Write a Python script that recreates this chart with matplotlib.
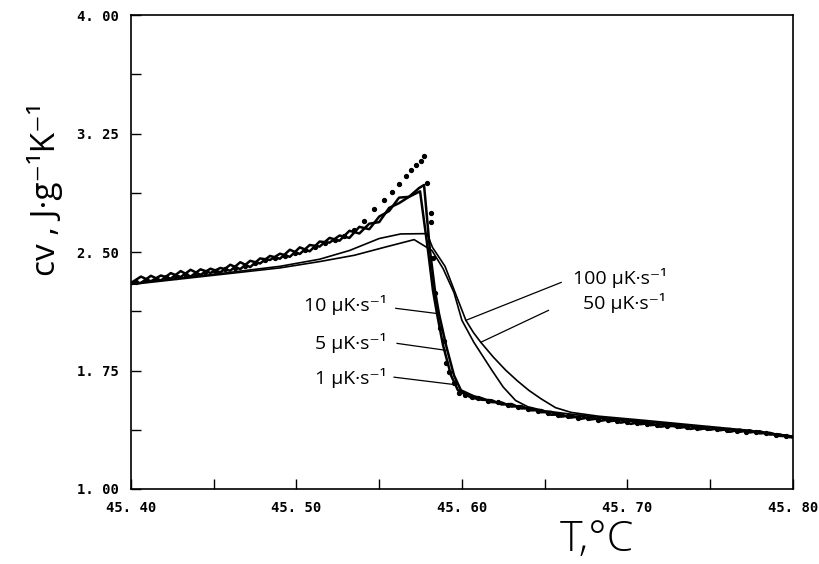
import matplotlib
matplotlib.use("Agg")
import matplotlib.pyplot as plt
from matplotlib.ticker import MultipleLocator, FuncFormatter

# --- data (T in °C, cv in J/(g K)) ---
# 10 uK/s scan (noisy line)
t_10 = [45.400, 45.406, 45.412, 45.418, 45.424, 45.430, 45.436, 45.442, 45.448, 45.454,
        45.460, 45.466, 45.472, 45.478, 45.484, 45.490, 45.496, 45.502, 45.508, 45.514,
        45.520, 45.526, 45.532, 45.538, 45.544, 45.550, 45.556, 45.562, 45.568, 45.574,
        45.5771, 45.5807, 45.5837, 45.5861, 45.5904, 45.5952, 45.5994, 45.6072,
        45.612, 45.618, 45.624, 45.630, 45.636, 45.642, 45.648, 45.654, 45.660, 45.666,
        45.672, 45.678, 45.684, 45.690, 45.696, 45.702, 45.708, 45.714, 45.720, 45.726,
        45.732, 45.738, 45.744, 45.750, 45.756, 45.762, 45.768, 45.774, 45.780, 45.786,
        45.792, 45.798, 45.800]
cv_10 = [2.305, 2.345, 2.315, 2.352, 2.332, 2.380, 2.345, 2.391, 2.368, 2.400,
         2.382, 2.436, 2.405, 2.460, 2.450, 2.490, 2.470, 2.530, 2.505, 2.567,
         2.560, 2.605, 2.590, 2.660, 2.645, 2.725, 2.760, 2.845, 2.850, 2.905,
         2.925, 2.510, 2.257, 2.112, 1.910, 1.720, 1.625, 1.587,
         1.575, 1.550, 1.548, 1.522, 1.525, 1.498, 1.500, 1.470, 1.472, 1.452,
         1.462, 1.440, 1.450, 1.430, 1.438, 1.412, 1.424, 1.404, 1.410, 1.398,
         1.402, 1.380, 1.390, 1.375, 1.386, 1.362, 1.376, 1.358, 1.366, 1.345,
         1.345, 1.328, 1.328]

# 5 uK/s scan (noisy line)
t_5 = [45.400, 45.406, 45.412, 45.418, 45.424, 45.430, 45.436, 45.442, 45.448, 45.454,
       45.460, 45.466, 45.472, 45.478, 45.484, 45.490, 45.496, 45.502, 45.508, 45.514,
       45.520, 45.526, 45.532, 45.538, 45.544, 45.550, 45.556, 45.562, 45.568,
       45.5747, 45.5795, 45.5825, 45.5849, 45.5886, 45.5934, 45.5976, 45.6054,
       45.612, 45.618, 45.624, 45.630, 45.636, 45.642, 45.648, 45.654, 45.660, 45.666,
       45.672, 45.678, 45.684, 45.690, 45.696, 45.702, 45.708, 45.714, 45.720, 45.726,
       45.732, 45.738, 45.744, 45.750, 45.756, 45.762, 45.768, 45.774, 45.780, 45.786,
       45.792, 45.798, 45.800]
cv_5 = [2.300, 2.305, 2.350, 2.320, 2.367, 2.342, 2.388, 2.356, 2.395, 2.372,
        2.420, 2.392, 2.445, 2.428, 2.476, 2.458, 2.515, 2.488, 2.545, 2.535,
        2.590, 2.572, 2.635, 2.618, 2.680, 2.690, 2.780, 2.810, 2.850,
        2.885, 2.510, 2.257, 2.112, 1.910, 1.720, 1.625, 1.580,
        1.565, 1.562, 1.535, 1.538, 1.510, 1.512, 1.486, 1.488, 1.458, 1.466,
        1.444, 1.456, 1.432, 1.442, 1.420, 1.432, 1.410, 1.418, 1.394, 1.404,
        1.388, 1.398, 1.378, 1.392, 1.372, 1.380, 1.362, 1.372, 1.352, 1.356,
        1.336, 1.334, 1.326]

# 1 uK/s scan (points)
t_1 = [45.403, 45.409, 45.415, 45.421, 45.427, 45.433, 45.439, 45.445, 45.451, 45.457,
       45.463, 45.469, 45.475, 45.481, 45.487, 45.493, 45.499, 45.505, 45.511, 45.517,
       45.523, 45.529, 45.535, 45.541, 45.547, 45.553, 45.558, 45.562, 45.566, 45.569,
       45.572, 45.575, 45.577, 45.5789, 45.5813, 45.5813, 45.5825, 45.5837, 45.5867,
       45.5892, 45.5904, 45.5922, 45.5952, 45.5982, 45.602, 45.606,
       45.610, 45.616, 45.622, 45.628, 45.634, 45.640, 45.646, 45.652, 45.658, 45.664,
       45.670, 45.676, 45.682, 45.688, 45.694, 45.700, 45.706, 45.712, 45.718, 45.724,
       45.730, 45.736, 45.742, 45.748, 45.754, 45.760, 45.766, 45.772, 45.778, 45.784,
       45.790, 45.796]
cv_1 = [2.310, 2.322, 2.330, 2.340, 2.345, 2.356, 2.362, 2.372, 2.378, 2.390,
        2.400, 2.415, 2.430, 2.448, 2.462, 2.478, 2.494, 2.512, 2.532, 2.555,
        2.578, 2.600, 2.640, 2.700, 2.770, 2.830, 2.880, 2.930, 2.980, 3.020,
        3.050, 3.080, 3.110, 2.940, 2.750, 2.690, 2.460, 2.240, 2.017,
        1.940, 1.800, 1.740, 1.670, 1.610, 1.595, 1.585,
        1.577, 1.560, 1.548, 1.532, 1.520, 1.506, 1.494, 1.480, 1.466, 1.460,
        1.452, 1.448, 1.440, 1.436, 1.430, 1.426, 1.420, 1.412, 1.404, 1.400,
        1.396, 1.392, 1.388, 1.384, 1.380, 1.374, 1.368, 1.364, 1.360, 1.352,
        1.342, 1.334]

# 100 uK/s scan (smooth)
t_100 = [45.400, 45.430, 45.460, 45.490, 45.514, 45.532, 45.550, 45.563, 45.5789,
         45.5822, 45.5898, 45.5964, 45.6024, 45.607, 45.6114, 45.619, 45.6265,
         45.6335, 45.6404, 45.648, 45.6566, 45.666, 45.6825, 45.710, 45.740,
         45.770, 45.800]
cv_100 = [2.300, 2.335, 2.372, 2.410, 2.455, 2.510, 2.586, 2.615, 2.617,
          2.530, 2.410, 2.230, 2.068, 1.990, 1.929, 1.835, 1.752,
          1.685, 1.625, 1.570, 1.515, 1.485, 1.461, 1.435, 1.405,
          1.375, 1.335]

# 50 uK/s scan (smooth)
t_50 = [45.400, 45.430, 45.460, 45.490, 45.514, 45.535, 45.553, 45.5711, 45.5819,
        45.5886, 45.5952, 45.600, 45.6072, 45.6181, 45.625, 45.6325, 45.640,
        45.650, 45.665, 45.690, 45.720, 45.750, 45.780, 45.800]
cv_50 = [2.295, 2.330, 2.365, 2.400, 2.440, 2.480, 2.530, 2.579, 2.510,
         2.396, 2.244, 2.068, 1.929, 1.752, 1.645, 1.560, 1.520,
         1.495, 1.475, 1.447, 1.418, 1.390, 1.362, 1.333]

# --- figure ---
fig = plt.figure(figsize=(8.19, 5.64), dpi=100)
ax = fig.add_axes([0.160, 0.133, 0.808, 0.840])

ax.plot(t_100, cv_100, color="black", linewidth=1.2)
ax.plot(t_50, cv_50, color="black", linewidth=1.2)
ax.plot(t_10, cv_10, color="black", linewidth=1.8)
ax.plot(t_5, cv_5, color="black", linewidth=1.8)
ax.plot(t_1, cv_1, "o", color="black", markersize=2.8)

ax.set_xlim(45.40, 45.80)
ax.set_ylim(1.00, 4.00)

ax.xaxis.set_major_locator(MultipleLocator(0.1))
ax.xaxis.set_minor_locator(MultipleLocator(0.05))
ax.yaxis.set_major_locator(MultipleLocator(0.75, offset=0.25))
ax.yaxis.set_minor_locator(MultipleLocator(0.375, offset=0.25))
ax.xaxis.set_major_formatter(FuncFormatter(lambda v, p: f"{v:.2f}".replace(".", ". ")))
ax.yaxis.set_major_formatter(FuncFormatter(lambda v, p: f"{v:.2f}".replace(".", ". ")))
ax.tick_params(which="both", direction="in", length=7, width=1.0, top=False, right=False)
ax.tick_params(axis="x", which="major", pad=9)
ax.tick_params(axis="y", which="major", pad=9)
for lab in ax.get_xticklabels() + ax.get_yticklabels():
    lab.set_fontfamily("DejaVu Sans Mono")
    lab.set_fontweight("bold")
    lab.set_fontsize(10)
for s in ax.spines.values():
    s.set_linewidth(1.2)

# axis titles
thin = ["Open Sans", "DejaVu Sans"]
fig.text(597 / 819, 1 - 540 / 564, "T,°C", fontsize=31, family=thin, fontweight="light",
         ha="center", va="center")
fig.text(45 / 819, 1 - 189 / 564, "cv , J·g⁻¹K⁻¹", fontsize=24, family=thin,
         rotation=90, ha="center", va="center")

# rate labels with leader lines
left_labels = [("10 µK·s⁻¹", (45.5547, 2.163), (45.5600, 2.144), (45.5843, 2.112)),
               ("5 µK·s⁻¹", (45.5547, 1.922), (45.5608, 1.922), (45.5904, 1.878)),
               ("1 µK·s⁻¹", (45.5547, 1.701), (45.5590, 1.708), (45.5940, 1.663))]
for txt, pos, a, b in left_labels:
    ax.text(pos[0], pos[1], txt, fontsize=14, family=thin, ha="right", va="center")
    ax.plot([a[0], b[0]], [a[1], b[1]], color="black", linewidth=0.9)

right_labels = [("100 µK·s⁻¹", (45.6673, 2.339), (45.6600, 2.308), (45.6024, 2.068)),
                ("50 µK·s⁻¹", (45.6733, 2.175), (45.6523, 2.131), (45.6114, 1.929))]
for txt, pos, a, b in right_labels:
    ax.text(pos[0], pos[1], txt, fontsize=14, family=thin, ha="left", va="center")
    ax.plot([a[0], b[0]], [a[1], b[1]], color="black", linewidth=0.9)

fig.savefig("out.png", dpi=100)
